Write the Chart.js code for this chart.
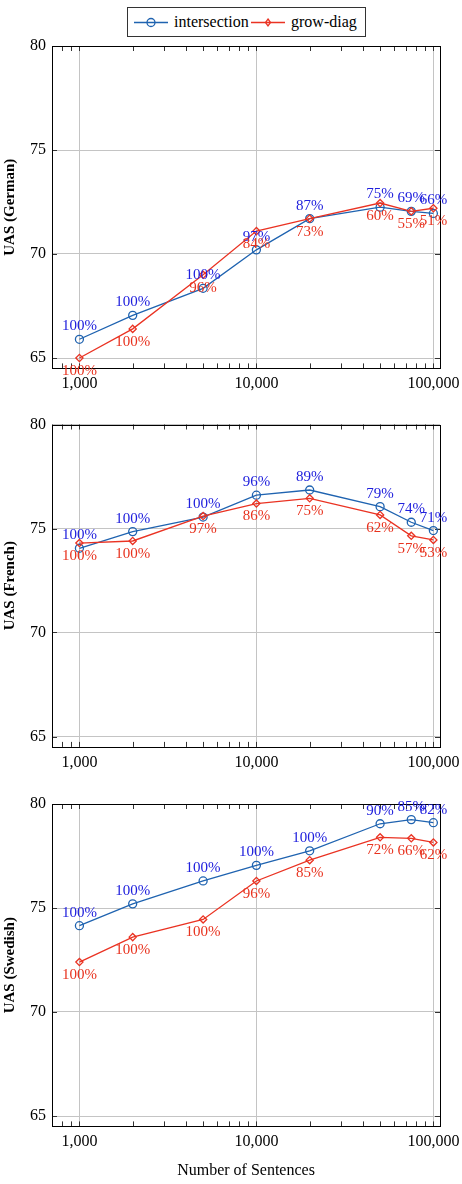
<!DOCTYPE html>
<html><head><meta charset="utf-8">
<script src="https://cdn.jsdelivr.net/npm/chart.js@4/dist/chart.umd.min.js"></script>
<style>
html,body{margin:0;padding:0;background:#fff;}
body{width:462px;height:1184px;position:relative;overflow:hidden;font-family:"Liberation Serif","Times New Roman",serif;}
canvas{position:absolute;left:0;}
#legend{position:absolute;left:127px;top:7px;width:237px;height:28px;border:1px solid #333;box-sizing:content-box;background:#fff;z-index:2;}
#legend svg{position:absolute;top:0;}
#legend span{position:absolute;top:4px;font-size:16px;line-height:20px;color:#000;white-space:nowrap;}
</style></head>
<body>
<div id="legend">
  <svg style="left:6px" width="36" height="28"><line x1="0" y1="14.5" x2="34" y2="14.5" stroke="#1f63b0" stroke-width="1.3"/><circle cx="17" cy="14.5" r="4" fill="none" stroke="#1f63b0" stroke-width="1.3"/></svg>
  <span style="left:46px">intersection</span>
  <svg style="left:123px" width="36" height="28"><line x1="0" y1="14.5" x2="34" y2="14.5" stroke="#ea3323" stroke-width="1.3"/><path d="M17 11 L19.5 14.5 L17 18 L14.5 14.5 Z" fill="none" stroke="#ea3323" stroke-width="1.3"/></svg>
  <span style="left:163px">grow-diag</span>
</div>
<canvas id="c1" width="462" height="400" style="top:0px"></canvas>
<canvas id="c2" width="462" height="380" style="top:400px"></canvas>
<canvas id="c3" width="462" height="404" style="top:780px"></canvas>
<script>
// ---- data ----
const sentences = [1000, 2000, 5000, 10000, 20000, 50000, 75000, 100000];

const germanIntersection = [65.9, 67.05, 68.35, 70.2, 71.7, 72.25, 72.05, 71.95];
const germanGrowDiag     = [65.0, 66.4, 69.0, 71.1, 71.7, 72.45, 72.05, 72.2];
const germanIntersectionPct = ["100%","100%","100%","97%","87%","75%","69%","66%"];
const germanGrowDiagPct     = ["100%","100%","96%","84%","73%","60%","55%","51%"];

const frenchIntersection = [74.05, 74.85, 75.55, 76.6, 76.85, 76.05, 75.3, 74.9];
const frenchGrowDiag     = [74.3, 74.4, 75.6, 76.2, 76.45, 75.65, 74.65, 74.45];
const frenchIntersectionPct = ["100%","100%","100%","96%","89%","79%","74%","71%"];
const frenchGrowDiagPct     = ["100%","100%","97%","86%","75%","62%","57%","53%"];

const swedishIntersection = [74.15, 75.2, 76.3, 77.05, 77.75, 79.05, 79.25, 79.1];
const swedishGrowDiag     = [72.4, 73.6, 74.45, 76.3, 77.3, 78.4, 78.35, 78.15];
const swedishIntersectionPct = ["100%","100%","100%","100%","100%","90%","85%","82%"];
const swedishGrowDiagPct     = ["100%","100%","100%","96%","85%","72%","66%","62%"];

const yTicks = [65, 70, 75, 80];
const xMajorTicks = [1000, 10000, 100000];
const xTickLabels = ["1,000", "10,000", "100,000"];
const xMinorTicks = [700, 800, 900, 2000, 3000, 4000, 5000, 6000, 7000, 8000, 9000,
                     20000, 30000, 40000, 50000, 60000, 70000, 80000, 90000];

// ---- styles ----
const BLUE = "#1f63b0", BLUE_TEXT = "#2020dd";
const RED = "#ea3323", RED_TEXT = "#e8321e";
const FONT = "'Liberation Serif','Times New Roman',serif";
const GRID = "#c4c4c4";
Chart.defaults.font.family = FONT;
Chart.defaults.color = "#000";

const framePlugin = {
  id: "frame",
  beforeDatasetsDraw(chart) {
    const ctx = chart.ctx, a = chart.chartArea;
    const xs = chart.scales.x, ys = chart.scales.y;
    ctx.save();
    ctx.strokeStyle = "#333";
    ctx.lineWidth = 1;
    ctx.beginPath();
    const all = xMinorTicks.concat(xMajorTicks);
    all.forEach(v => {
      const px = Math.round(xs.getPixelForValue(v)) + 0.5;
      if (px < a.left || px > a.right) return;
      ctx.moveTo(px, a.top); ctx.lineTo(px, a.top + 5);
      ctx.moveTo(px, a.bottom); ctx.lineTo(px, a.bottom - 5);
    });
    yTicks.forEach(v => {
      const py = Math.round(ys.getPixelForValue(v)) + 0.5;
      ctx.moveTo(a.left, py); ctx.lineTo(a.left + 5, py);
      ctx.moveTo(a.right, py); ctx.lineTo(a.right - 5, py);
    });
    ctx.stroke();
    ctx.strokeStyle = "#000";
    ctx.strokeRect(Math.round(a.left) + 0.5, Math.round(a.top) + 0.5,
                   Math.round(a.right) - Math.round(a.left), Math.round(a.bottom) - Math.round(a.top));
    ctx.restore();
  },
  afterDatasetsDraw(chart) {
    const ctx = chart.ctx;
    ctx.save();
    ctx.font = "15px " + FONT;
    ctx.textAlign = "center";
    ctx.textBaseline = "middle";
    chart.data.datasets.forEach((ds, di) => {
      const meta = chart.getDatasetMeta(di);
      ctx.fillStyle = ds.labelColor;
      meta.data.forEach((pt, i) => {
        const dy = ds.labelAbove ? -13 : 13;
        ctx.fillText(ds.pctLabels[i], pt.x, pt.y + dy);
      });
    });
    ctx.restore();
  }
};

function makeChart(id, yTitle, inter, grow, interPct, growPct, plotTop, canvasH, showXTitle) {
  const plotH = 322.4;
  const xAxisH = canvasH - plotTop - plotH;
  return new Chart(document.getElementById(id), {
    type: "line",
    data: {
      datasets: [
        {
          label: "intersection",
          data: sentences.map((x, i) => ({ x: x, y: inter[i] })),
          borderColor: BLUE, backgroundColor: "rgba(0,0,0,0)",
          borderWidth: 1.3, pointStyle: "circle", pointRadius: 4,
          pointBorderWidth: 1.3, pointBorderColor: BLUE, pointBackgroundColor: "rgba(0,0,0,0)",
          tension: 0, order: 1,
          pctLabels: interPct, labelColor: BLUE_TEXT, labelAbove: true
        },
        {
          label: "grow-diag",
          data: sentences.map((x, i) => ({ x: x, y: grow[i] })),
          borderColor: RED, backgroundColor: "rgba(0,0,0,0)",
          borderWidth: 1.3, pointStyle: "rectRot", pointRadius: 3.6,
          pointBorderWidth: 1.3, pointBorderColor: RED, pointBackgroundColor: "rgba(0,0,0,0)",
          tension: 0, order: 0,
          pctLabels: growPct, labelColor: RED_TEXT, labelAbove: false
        }
      ]
    },
    options: {
      responsive: false, animation: false, devicePixelRatio: 1,
      layout: { padding: { top: plotTop, right: 22, left: 0, bottom: 0 } },
      plugins: { legend: { display: false }, tooltip: { enabled: false } },
      scales: {
        x: {
          type: "logarithmic", min: 700, max: 109000,
          afterBuildTicks: s => {
            s.ticks = xMinorTicks.concat(xMajorTicks).sort((a, b) => a - b)
              .map(v => ({ value: v, major: xMajorTicks.includes(v) }));
          },
          afterFit: s => { s.height = xAxisH; s.paddingLeft = 0; s.paddingRight = 0; },
          ticks: {
            autoSkip: false, maxRotation: 0, minRotation: 0, padding: 6,
            font: { size: 16, family: FONT }, color: "#000",
            callback: (v) => { const k = xMajorTicks.indexOf(v); return k >= 0 ? xTickLabels[k] : ""; }
          },
          grid: {
            drawTicks: false, lineWidth: 1,
            color: c => (c.tick && xMajorTicks.includes(c.tick.value)) ? GRID : "rgba(0,0,0,0)"
          },
          border: { display: false },
          title: {
            display: showXTitle, text: "Number of Sentences",
            font: { size: 16, family: FONT }, color: "#000", padding: { top: 0, bottom: 4 }
          }
        },
        y: {
          type: "linear", min: 64.5, max: 80,
          afterBuildTicks: s => { s.ticks = yTicks.map(v => ({ value: v })); },
          afterFit: s => { s.width = 52; s.paddingTop = 0; s.paddingBottom = 0; },
          ticks: { padding: 6, font: { size: 16, family: FONT }, color: "#000" },
          grid: { drawTicks: false, color: GRID, lineWidth: 1 },
          border: { display: false },
          title: {
            display: true, text: yTitle,
            font: { size: 15, family: FONT, weight: "bold" }, color: "#000",
            padding: { top: 1.5, bottom: 0 }
          }
        }
      }
    },
    plugins: [framePlugin]
  });
}

makeChart("c1", "UAS (German)", germanIntersection, germanGrowDiag, germanIntersectionPct, germanGrowDiagPct, 46, 400, false);
makeChart("c2", "UAS (French)", frenchIntersection, frenchGrowDiag, frenchIntersectionPct, frenchGrowDiagPct, 24.5, 380, false);
makeChart("c3", "UAS (Swedish)", swedishIntersection, swedishGrowDiag, swedishIntersectionPct, swedishGrowDiagPct, 24, 404, true);
</script>
</body></html>
